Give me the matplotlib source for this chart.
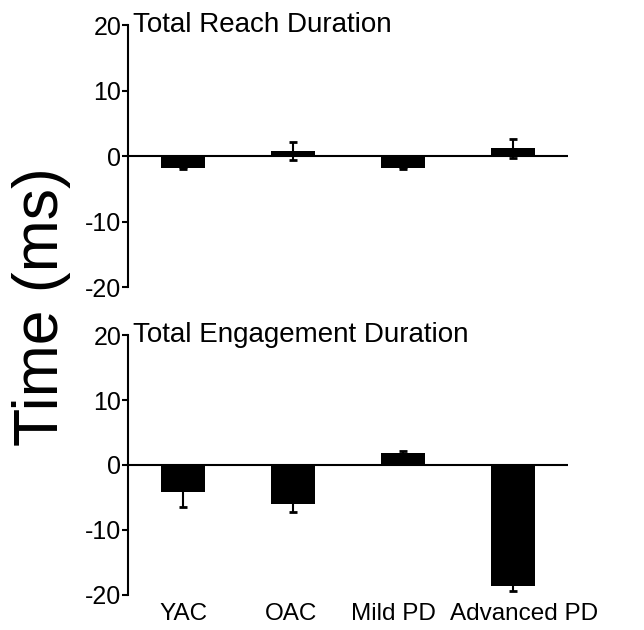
import matplotlib
matplotlib.use("Agg")
import matplotlib.pyplot as plt
import matplotlib.transforms as mtransforms

plt.rcParams['font.family'] = ['Liberation Sans', 'DejaVu Sans']

groups = ['YAC', 'OAC', 'Mild PD', 'Advanced PD']
reach_mean = [-1.8, 0.8, -1.8, 1.2]
reach_err = [0.2, 1.3, 0.2, 1.5]
engage_mean = [-4.2, -6.0, 1.9, -18.7]
engage_err = [2.3, 1.3, 0.3, 0.8]
panel_titles = ['Total Reach Duration', 'Total Engagement Duration']
yticks = [-20, -10, 0, 10, 20]

fig = plt.figure(figsize=(6.44, 6.30), dpi=100)
ax1 = fig.add_axes([0.199, 0.544, 0.683, 0.416])
ax2 = fig.add_axes([0.199, 0.056, 0.683, 0.412])

x = list(range(len(groups)))
for ax, means, errs, title in [(ax1, reach_mean, reach_err, panel_titles[0]),
                               (ax2, engage_mean, engage_err, panel_titles[1])]:
    ax.bar(x, means, width=0.4, color='black', zorder=2)
    ax.errorbar(x, means, yerr=errs, fmt='none', ecolor='black',
                elinewidth=1.5, capsize=3, capthick=2, zorder=1)
    ax.axhline(0, color='black', lw=1.5, zorder=3)
    ax.set_xlim(-0.5, 3.5)
    ax.set_ylim(-20, 20)
    ax.set_yticks(yticks)
    ax.set_yticklabels(['-20', '-10', '0', '10', '20'], fontsize=18)
    for s in ['top', 'right', 'bottom']:
        ax.spines[s].set_visible(False)
    ax.spines['left'].set_linewidth(1.5)
    ax.tick_params(axis='y', direction='out', length=4, width=1.5, pad=1)
    ax.text(0.01, 1.0, title, transform=ax.transAxes, fontsize=20,
            ha='left', va='center')

ax1.set_xticks([])
ax2.set_xticks(x)
ax2.set_xticklabels(groups, fontsize=17.5)
ax2.tick_params(axis='x', length=0, pad=6)

# nudge the last two labels apart so they don't collide
shifts = [0, -2, -10, 11]
for lab, dx in zip(ax2.get_xticklabels(), shifts):
    lab.set_transform(lab.get_transform() +
                      mtransforms.ScaledTranslation(dx / 100, 0, fig.dpi_scale_trans))

fig.text(0.065, 0.513, 'Time (ms)', rotation=90, fontsize=45,
         ha='center', va='center')

fig.savefig('out.png', dpi=100)
